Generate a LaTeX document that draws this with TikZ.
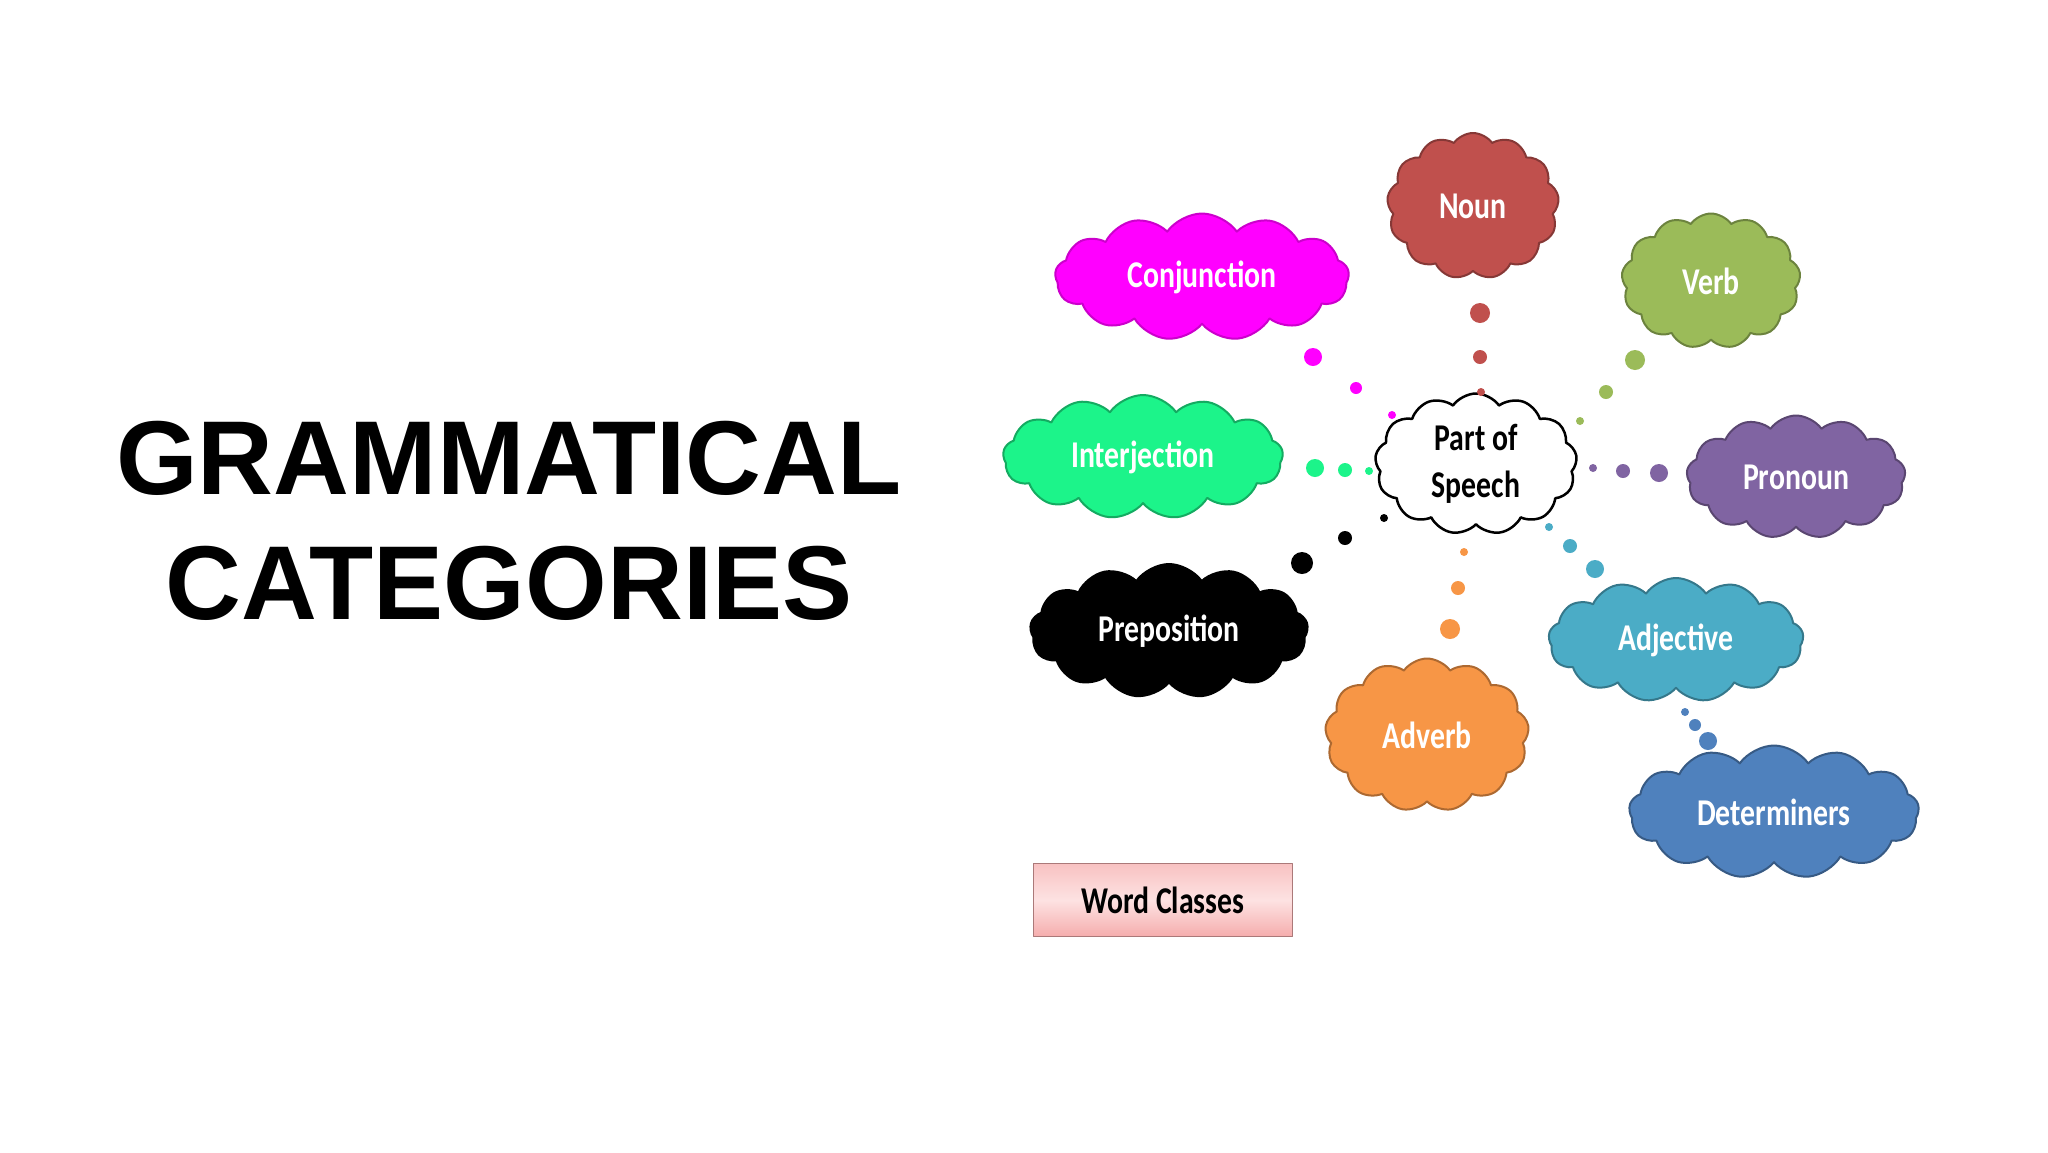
\documentclass[tikz,border=0pt]{standalone}
\usepackage{fontspec}
\usepackage{graphicx}
\setmainfont{Liberation Sans}
\newfontfamily\cali{Carlito}
\usetikzlibrary{shapes.symbols}

\definecolor{nounc}{HTML}{C0504D}
\definecolor{conjc}{HTML}{FF00FF}
\definecolor{verbc}{HTML}{9BBB59}
\definecolor{interjc}{HTML}{1CF48A}
\definecolor{pronc}{HTML}{8064A2}
\definecolor{prepc}{HTML}{000000}
\definecolor{adjc}{HTML}{4BACC6}
\definecolor{advc}{HTML}{F79646}
\definecolor{detc}{HTML}{4F81BD}
\definecolor{wctop}{HTML}{F8C2C2}
\definecolor{wcmid}{HTML}{FDE2E2}
\definecolor{wcbot}{HTML}{F5ADAD}

% the clip-art letters are drawn a little tall and narrow
\newcommand\tallt[1]{\scalebox{0.96}[1.22]{#1}}

\begin{document}
\begin{tikzpicture}[x=1pt,y=-1pt,line cap=round,line join=round,
  title/.style={font=\bfseries\fontsize{105}{105}\selectfont,anchor=base},
  puff/.style={cloud,cloud puffs=13,cloud puff arc=110,cloud ignores aspect,
    draw,line width=2pt,inner sep=0pt,text=white,
    font=\cali\bfseries\fontsize{31}{31}\selectfont},
  label/.style={font=\cali\bfseries\fontsize{31}{31}\selectfont}]

\fill[white] (0,0) rectangle (2048,1152);
\useasboundingbox (0,0) rectangle (2048,1152);

% Title on the left.
\node[title] (gram) at (509,494) {GRAMMATICAL};
\node[title] (cats) at (509,619) {CATEGORIES};

% Centre cloud and the nine word classes round it.
\node[puff,fill=white,draw=black,line width=2.5pt,text=black,align=center,
  font=\cali\bfseries\fontsize{31}{47}\selectfont,minimum width=202,minimum height=141]
  (pos) at (1476,464) {\tallt{Part of}\\\tallt{Speech}};
\node[puff,fill=nounc,draw=nounc!70!black,minimum width=172,minimum height=146]
  (noun) at (1473,206) {\tallt{Noun}};
\node[puff,fill=conjc,draw=conjc!80!black,minimum width=294,minimum height=127]
  (conj) at (1202,277) {\tallt{Conjunction}};
\node[puff,fill=verbc,draw=verbc!70!black,minimum width=179,minimum height=135]
  (verb) at (1711,281) {\tallt{Verb}};
\node[puff,fill=interjc,draw=interjc!70!black,minimum width=280,minimum height=124]
  (interj) at (1143,457) {\tallt{Interjection}};
\node[puff,fill=pronc,draw=pronc!70!black,minimum width=219,minimum height=123]
  (pron) at (1796,477) {\tallt{Pronoun}};
\node[puff,fill=prepc,draw=prepc,minimum width=278,minimum height=134]
  (prep) at (1169,631) {\tallt{Preposition}};
\node[puff,fill=adjc,draw=adjc!70!black,minimum width=255,minimum height=124]
  (adj) at (1676,640) {\tallt{Adjective}};
\node[puff,fill=advc,draw=advc!70!black,minimum width=204,minimum height=153]
  (adv) at (1427,735) {\tallt{Adverb}};
\node[puff,fill=detc,draw=detc!70!black,minimum width=290,minimum height=133]
  (det) at (1774,812) {\tallt{Determiners}};

% Thought bubbles from the centre to each class.
\foreach \x/\y/\r in {1480/313/10,1480/357/7,1481/392/4}
  \fill[nounc] (\x,\y) circle (\r);
\foreach \x/\y/\r in {1313/357/9,1356/388/6,1392/415/4}
  \fill[conjc] (\x,\y) circle (\r);
\foreach \x/\y/\r in {1635/360/10,1606/392/7,1580/421/4}
  \fill[verbc] (\x,\y) circle (\r);
\foreach \x/\y/\r in {1315/468/9,1345/470/7,1369/471/4}
  \fill[interjc] (\x,\y) circle (\r);
\foreach \x/\y/\r in {1659/473/9,1623/471/7,1593/468/4}
  \fill[pronc] (\x,\y) circle (\r);
\foreach \x/\y/\r in {1302/563/11,1345/538/7,1384/518/4}
  \fill[prepc] (\x,\y) circle (\r);
\foreach \x/\y/\r in {1450/629/10,1458/588/7,1464/552/4}
  \fill[advc] (\x,\y) circle (\r);
\foreach \x/\y/\r in {1595/569/9,1570/546/7,1549/527/4}
  \fill[adjc] (\x,\y) circle (\r);
\foreach \x/\y/\r in {1708/741/9,1695/725/6,1685/712/4}
  \fill[detc] (\x,\y) circle (\r);

% Caption box.
\node[label,draw=wcbot!70!black,line width=1pt,top color=wctop,bottom color=wcbot,
  middle color=wcmid,minimum width=259,minimum height=73]
  (wordcls) at (1163,900) {\tallt{Word Classes}};
\end{tikzpicture}
\end{document}
